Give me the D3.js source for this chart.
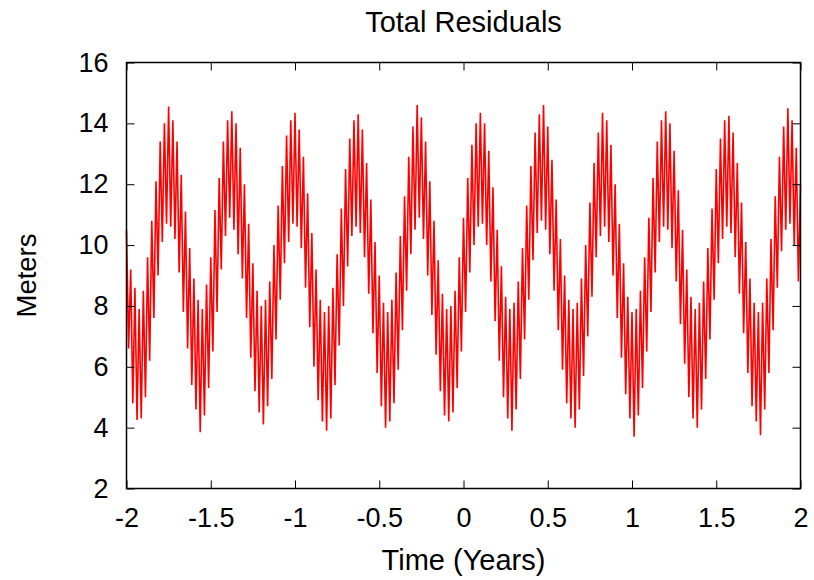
<!DOCTYPE html>
<html>
<head>
<meta charset="utf-8">
<script src="https://cdn.jsdelivr.net/npm/d3@7"></script>
<style>
  body { margin: 0; background: #fff; }
  text { font-family: "Liberation Sans", Arial, sans-serif; }
</style>
</head>
<body>
<div id="chart"></div>
<script>
var width = 814;
var height = 580;

// samples every 0.0125 yr starting at -2
var sampleStart = -2;
var sampleStep = 0.0125;

// residuals, one array per year
var residualsA = [
    10.5, 6.6, 9.2, 4.8, 8.6, 4.25, 7.9, 4.3, 8.5, 5.0,
    9.6, 6.2, 10.8, 7.6, 12.1, 9.0, 13.4, 10.1, 14.0, 10.7,
    14.55, 10.6, 14.1, 10.2, 13.4, 9.1, 12.3, 7.8, 11.1, 6.6,
    9.9, 5.4, 8.9, 4.6, 8.2, 3.85, 7.9, 4.4, 8.7, 5.3,
    9.6, 6.5, 11.15, 7.8, 12.2, 9.2, 13.4, 10.3, 14.1, 10.9,
    14.4, 10.5, 14.0, 9.7, 13.2, 8.9, 12.0, 7.6, 10.7, 6.3,
    9.4, 5.2, 8.5, 4.5, 8.0, 4.1, 8.2, 4.7, 8.8, 5.6,
    10.0, 6.9, 11.3, 8.2, 12.6, 9.4, 13.6, 10.1, 14.1, 10.7
];
var residualsB = [
    14.35, 10.6, 13.8, 9.9, 12.9, 8.6, 11.7, 7.3, 10.4, 6.0,
    9.2, 4.9, 8.2, 4.2, 7.8, 3.9, 8.0, 4.3, 8.6, 5.4,
    9.7, 6.7, 11.2, 8.0, 12.5, 9.3, 13.5, 10.3, 14.1, 10.6,
    14.3, 10.4, 13.8, 9.6, 12.7, 8.4, 11.5, 7.1, 10.1, 5.8,
    9.0, 4.7, 8.1, 4.0, 7.8, 4.2, 8.2, 4.8, 9.1, 5.9,
    10.3, 7.2, 11.6, 8.5, 12.9, 9.7, 13.9, 10.5, 14.6, 10.9,
    14.2, 10.2, 13.4, 9.0, 12.1, 7.7, 10.8, 6.4, 9.5, 5.2,
    8.4, 4.4, 7.9, 4.2, 8.0, 4.5, 8.5, 5.3, 9.6, 6.5
];
var residualsC = [
    10.9, 7.8, 12.2, 9.1, 13.3, 10.0, 14.0, 10.6, 14.35, 10.7,
    14.0, 10.0, 13.1, 8.8, 11.9, 7.5, 10.5, 6.2, 9.3, 5.0,
    8.3, 4.3, 7.9, 3.9, 8.1, 4.6, 8.8, 5.6, 9.9, 6.9,
    11.3, 8.2, 12.6, 9.5, 13.7, 10.4, 14.3, 10.8, 14.6, 10.5,
    13.9, 9.7, 12.8, 8.5, 11.5, 7.2, 10.2, 5.9, 9.0, 4.8,
    8.2, 4.3, 7.9, 4.0, 8.1, 4.6, 8.9, 5.7, 10.0, 7.0,
    11.4, 8.3, 12.7, 9.6, 13.7, 10.3, 14.35, 10.6, 14.1, 10.1,
    13.3, 9.0, 12.0, 7.6, 10.7, 6.3, 9.4, 5.1, 8.3, 4.3
];
var residualsD = [
    7.8, 3.7, 7.9, 4.4, 8.5, 5.3, 9.6, 6.5, 10.9, 7.8,
    12.2, 9.1, 13.4, 10.1, 14.1, 10.6, 14.4, 10.5, 14.0, 9.9,
    13.1, 8.8, 11.8, 7.4, 10.5, 6.1, 9.2, 5.0, 8.3, 4.3,
    7.9, 4.0, 8.1, 4.6, 8.8, 5.6, 9.9, 6.9, 11.2, 8.2,
    12.5, 9.4, 13.5, 10.2, 14.1, 10.6, 14.25, 10.4, 13.7, 9.6,
    12.7, 8.4, 11.4, 7.1, 10.1, 5.8, 8.9, 4.7, 8.1, 4.2,
    7.8, 3.75, 8.1, 4.6, 8.9, 5.8, 10.2, 7.2, 11.6, 8.6,
    12.9, 9.8, 13.9, 10.5, 14.5, 10.7, 14.1, 10.0, 13.2, 8.8,
    12.0
];

var xTicks = [-2, -1.5, -1, -0.5, 0, 0.5, 1, 1.5, 2];
var xTickLabels = ["-2", "-1.5", "-1", "-0.5", "0", "0.5", "1", "1.5", "2"];
var yTicks = [2, 4, 6, 8, 10, 12, 14, 16];
var yTickLabels = ["2", "4", "6", "8", "10", "12", "14", "16"];

var margin = {left: 126.5, right: 800.5, top: 62.5, bottom: 488.5};

var residuals = residualsA.concat(residualsB, residualsC, residualsD);
var data = residuals.map(function(v, i) {
    return {x: sampleStart + i * sampleStep, y: v};
});

var svg = d3.select("#chart")
    .append("svg")
    .attr("width", width)
    .attr("height", height);

var x = d3.scaleLinear()
    .domain([-2, 2])
    .range([margin.left, margin.right]);

var y = d3.scaleLinear()
    .domain([2, 16])
    .range([margin.bottom, margin.top]);

var line = d3.line()
    .x(function(d) { return x(d.x); })
    .y(function(d) { return y(d.y); });

svg.append("path")
    .datum(data)
    .attr("fill", "none")
    .attr("stroke", "#ff0000")
    .attr("stroke-width", 1.6)
    .attr("stroke-linejoin", "miter")
    .attr("stroke-miterlimit", 2)
    .attr("d", line);

function fmt(labels, ticks) {
    return function(d) { return labels[ticks.indexOf(d)]; };
}

function styleAxis(g, size) {
    g.select(".domain").remove();
    g.selectAll(".tick line").attr("stroke", "#000").attr("stroke-width", 1);
    g.selectAll("text")
        .attr("fill", "#000")
        .style("font-size", size + "px")
        .style("font-family", "'Liberation Sans', Arial, sans-serif");
}

svg.append("g")
    .attr("transform", "translate(0," + margin.bottom + ")")
    .call(d3.axisBottom(x).tickValues(xTicks).tickFormat(fmt(xTickLabels, xTicks))
        .tickSizeInner(-8).tickSizeOuter(0).tickPadding(19))
    .call(styleAxis, 27);

svg.append("g")
    .attr("transform", "translate(0," + margin.top + ")")
    .call(d3.axisTop(x).tickValues(xTicks).tickFormat("")
        .tickSizeInner(-8).tickSizeOuter(0))
    .call(styleAxis, 27);

svg.append("g")
    .attr("transform", "translate(" + margin.left + ",0)")
    .call(d3.axisLeft(y).tickValues(yTicks).tickFormat(fmt(yTickLabels, yTicks))
        .tickSizeInner(-8).tickSizeOuter(0).tickPadding(18))
    .call(styleAxis, 27);

svg.append("g")
    .attr("transform", "translate(" + margin.right + ",0)")
    .call(d3.axisRight(y).tickValues(yTicks).tickFormat("")
        .tickSizeInner(-8).tickSizeOuter(0))
    .call(styleAxis, 27);

svg.append("rect")
    .attr("x", margin.left)
    .attr("y", margin.top)
    .attr("width", margin.right - margin.left)
    .attr("height", margin.bottom - margin.top)
    .attr("fill", "none")
    .attr("stroke", "#000")
    .attr("stroke-width", 1.5);

svg.append("text")
    .attr("x", (margin.left + margin.right) / 2)
    .attr("y", 32)
    .attr("text-anchor", "middle")
    .style("font-size", "29px")
    .text("Total Residuals");

svg.append("text")
    .attr("x", (margin.left + margin.right) / 2)
    .attr("y", 570)
    .attr("text-anchor", "middle")
    .style("font-size", "29px")
    .text("Time (Years)");

svg.append("text")
    .attr("transform", "translate(36," + (margin.top + margin.bottom) / 2 + ") rotate(-90)")
    .attr("text-anchor", "middle")
    .style("font-size", "27.5px")
    .text("Meters");
</script>
</body>
</html>
